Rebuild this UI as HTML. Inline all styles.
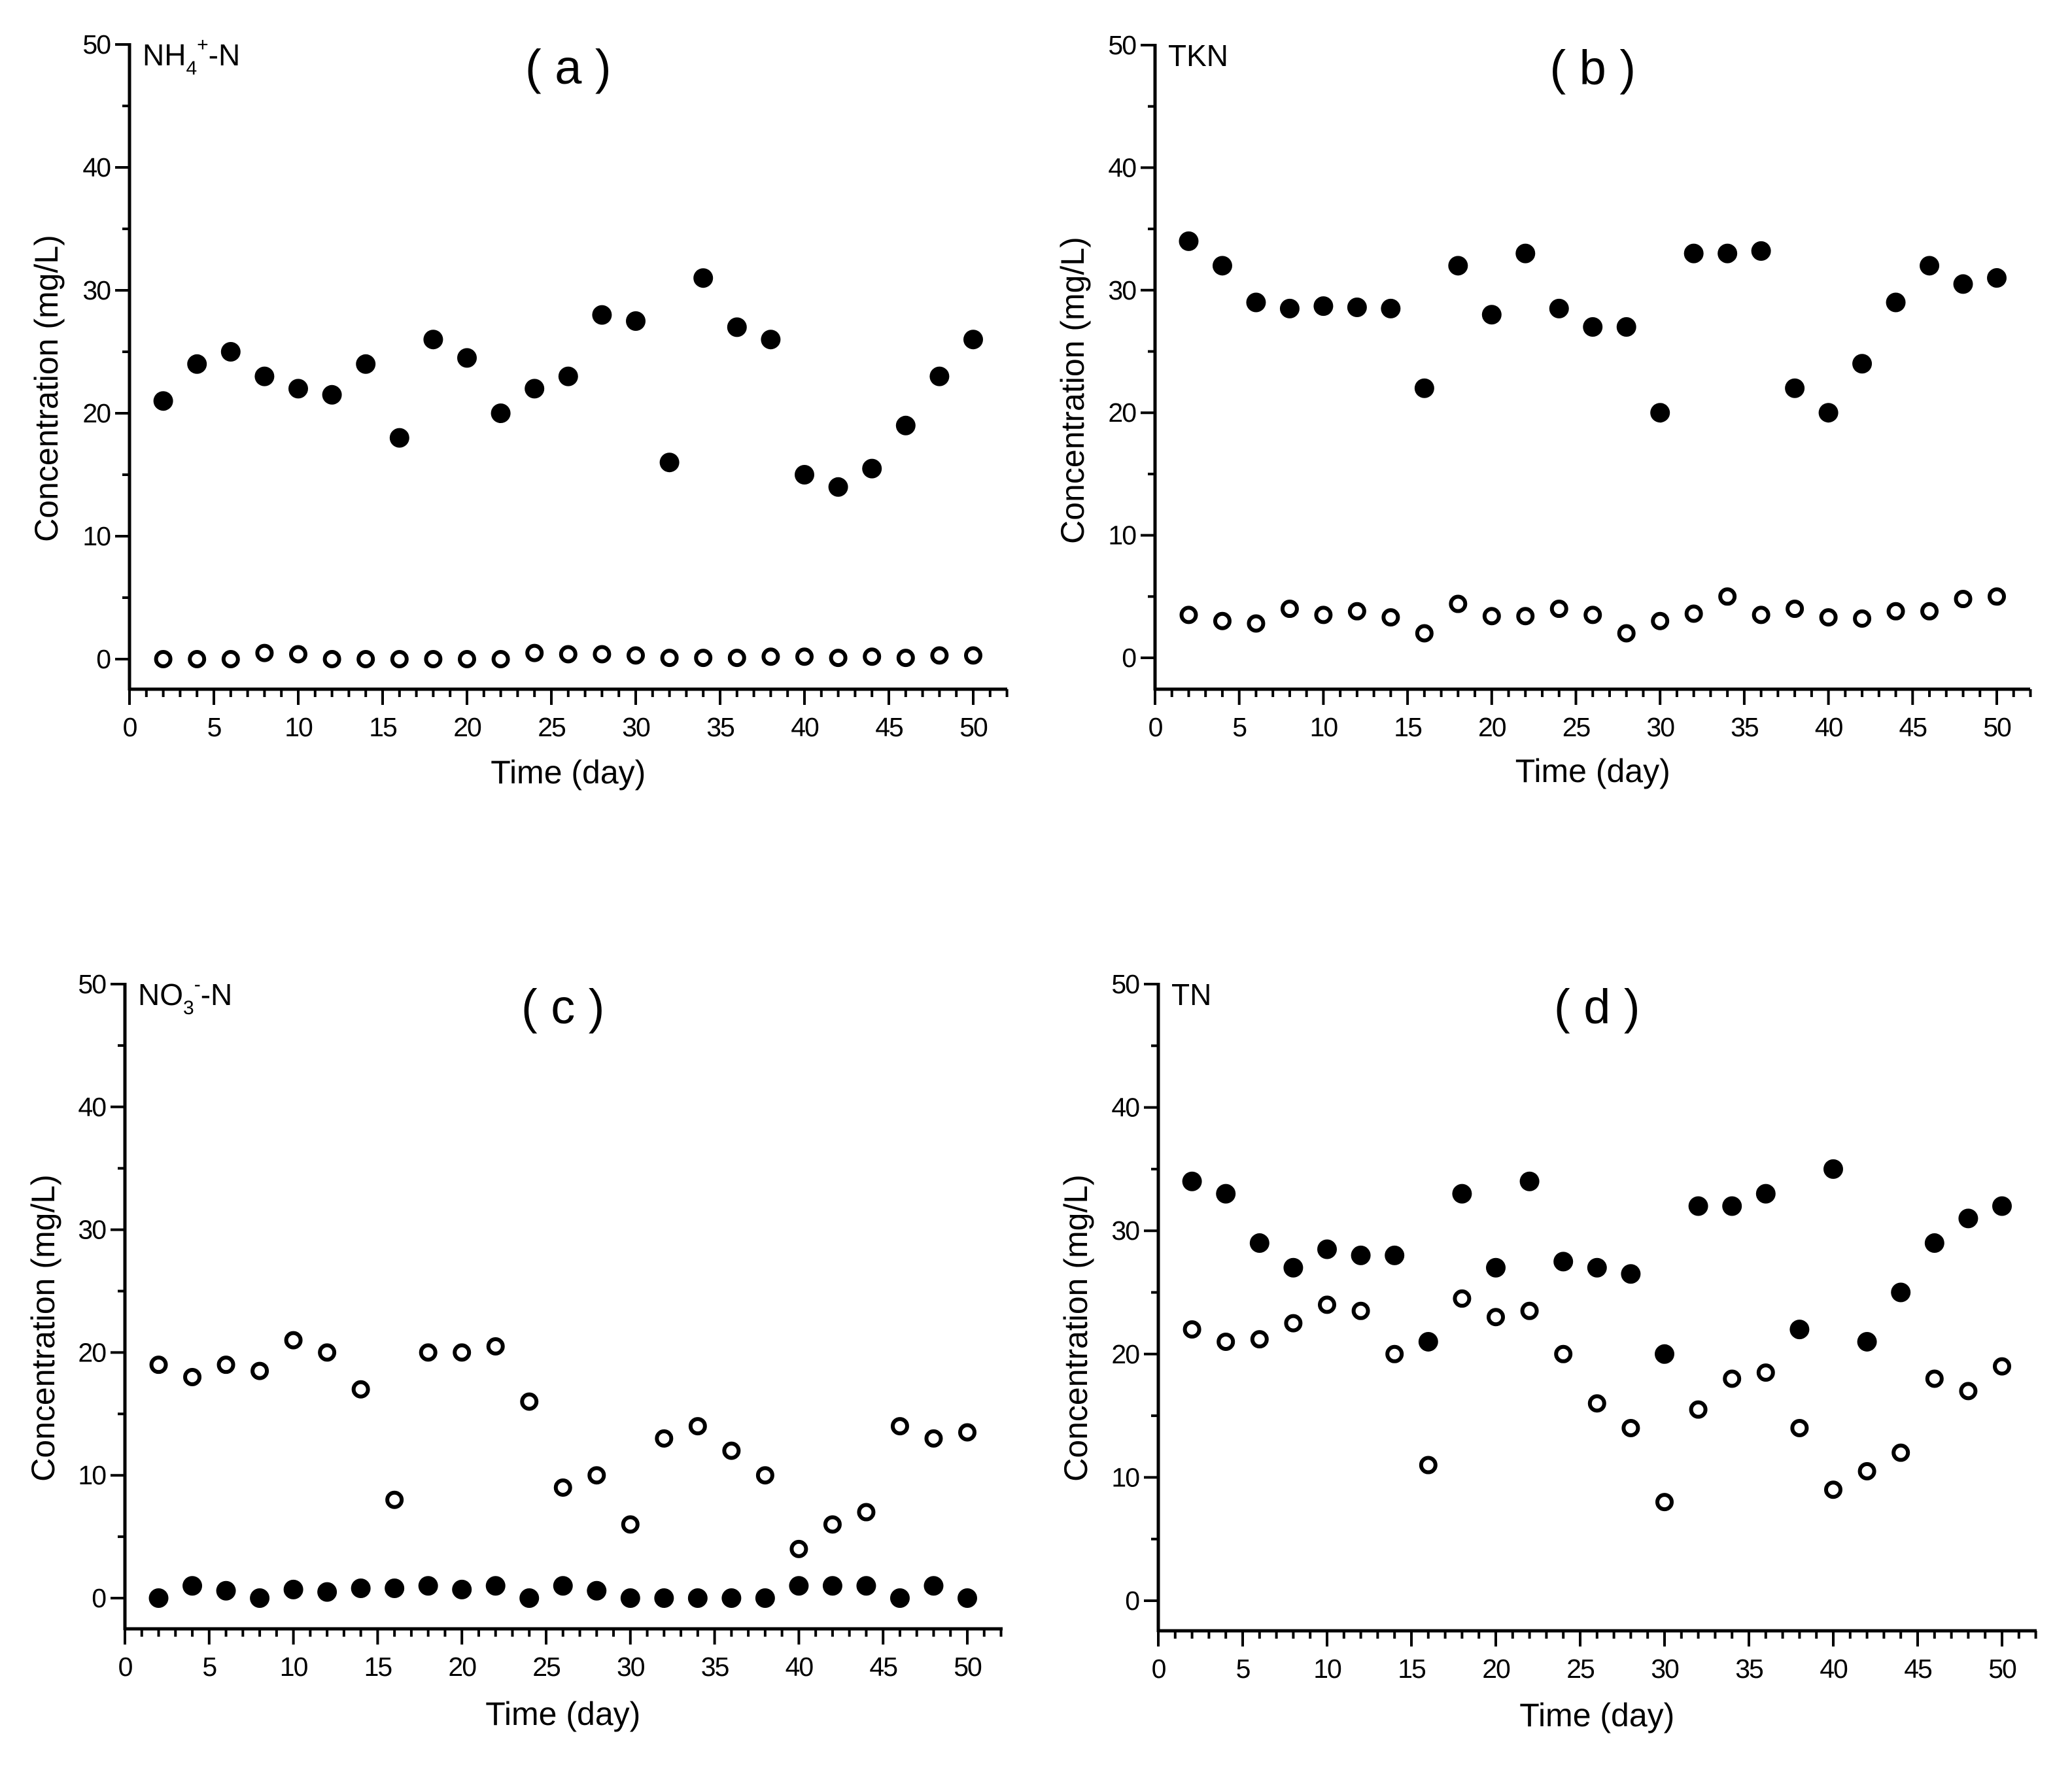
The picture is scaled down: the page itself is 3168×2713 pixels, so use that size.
<!DOCTYPE html>
<html><head><meta charset="utf-8"><style>
html,body{margin:0;padding:0;background:#fff;}
svg{display:block;font-family:"Liberation Sans",sans-serif;}
</style></head><body>
<svg id="fig" width="3168" height="2713" viewBox="0 0 3168 2713" xmlns="http://www.w3.org/2000/svg">
<rect width="3168" height="2713" fill="#fff"/>
</svg>
<script>
const days = [2,4,6,8,10,12,14,16,18,20,22,24,26,28,30,32,34,36,38,40,42,44,46,48,50];
const xTicks = [0,5,10,15,20,25,30,35,40,45,50];
const yTicks = [0,10,20,30,40,50];
const aFilled = [21,24,25,23,22,21.5,24,18,26,24.5,20,22,23,28,27.5,16,31,27,26,15,14,15.5,19,23,26];
const aOpen = [0,0,0,0.5,0.4,0,0,0,0,0,0,0.5,0.4,0.4,0.3,0.1,0.1,0.1,0.2,0.2,0.1,0.2,0.1,0.3,0.3];
const bFilled = [34,32,29,28.5,28.7,28.6,28.5,22,32,28,33,28.5,27,27,20,33,33,33.2,22,20,24,29,32,30.5,31];
const bOpen = [3.5,3,2.8,4,3.5,3.8,3.3,2,4.4,3.4,3.4,4,3.5,2,3,3.6,5,3.5,4,3.3,3.2,3.8,3.8,4.8,5];
const cFilled = [0,1,0.6,0,0.7,0.5,0.8,0.8,1,0.7,1,0,1,0.6,0,0,0,0,0,1,1,1,0,1,0];
const cOpen = [19,18,19,18.5,21,20,17,8,20,20,20.5,16,9,10,6,13,14,12,10,4,6,7,14,13,13.5];
const dFilled = [34,33,29,27,28.5,28,28,21,33,27,34,27.5,27,26.5,20,32,32,33,22,35,21,25,29,31,32];
const dOpen = [22,21,21.2,22.5,24,23.5,20,11,24.5,23,23.5,20,16,14,8,15.5,18,18.5,14,9,10.5,12,18,17,19];

const NS="http://www.w3.org/2000/svg";
const svg=document.getElementById('fig');
function mk(tag,attrs,parent){const e=document.createElementNS(NS,tag);for(const k in attrs)e.setAttribute(k,attrs[k]);(parent||svg).appendChild(e);return e;}

const panels=[
 {id:'a',ax:198,x50:1488,xend:1540,y0:1008,y50:68,xa:1054,ytx:71,yty:594,xty:1180,filled:aFilled,open:aOpen,lbl:['NH','4','+','-N']},
 {id:'b',ax:1766,x50:3053,xend:3104,y0:1006,y50:69,xa:1054,ytx:1640,yty:597,xty:1178,filled:bFilled,open:bOpen,lbl:['TKN']},
 {id:'c',ax:191,x50:1479,xend:1533,y0:2444,y50:1505,xa:2491,ytx:66,yty:2031,xty:2620,filled:cFilled,open:cOpen,lbl:['NO','3','-','-N']},
 {id:'d',ax:1771,x50:3061,xend:3114,y0:2448,y50:1505,xa:2494,ytx:1645,yty:2031,xty:2622,filled:dFilled,open:dOpen,lbl:['TN']}
];

panels.forEach(p=>{
  const g=mk('g',{});
  
  
  const X=v=>p.ax+(p.x50-p.ax)*v/50;
  const Y=v=>p.y0+(p.y50-p.y0)*v/50;
  const yAxis=mk('line',{x1:p.ax,y1:p.y50-2,x2:p.ax,y2:p.xa+2,stroke:'#000','stroke-width':5},g);
  
  
  const xAxis=mk('line',{x1:p.ax,y1:p.xa,x2:p.xend,y2:p.xa,stroke:'#000','stroke-width':5},g);
  
  
  for(let v=0;v<=52;v++){
    const maj=v%5===0;
    mk('line',{x1:X(v),y1:p.xa,x2:X(v),y2:p.xa+(maj?24:12),stroke:'#000','stroke-width':4},g);
  }
  xTicks.forEach(v=>{
    const t=mk('text',{x:X(v),y:p.xa+72,'font-size':41,'letter-spacing':-2,'text-anchor':'middle'},g);
    t.textContent=v;
    
    
  });
  for(let v=0;v<=50;v+=5){
    const maj=v%10===0;
    mk('line',{x1:p.ax,y1:Y(v),x2:p.ax-(maj?22:11),y2:Y(v),stroke:'#000','stroke-width':4},g);
  }
  yTicks.forEach(v=>{
    const t=mk('text',{x:p.ax-30,y:Y(v)+14,'font-size':41,'letter-spacing':-2,'text-anchor':'end'},g);
    t.textContent=v;
    
    
  });
  const yt=mk('text',{x:p.ytx,y:p.yty,'font-size':50,'text-anchor':'middle',transform:`rotate(-90 ${p.ytx} ${p.yty})`,'dominant-baseline':'central'},g);
  yt.textContent='Concentration (mg/L)';
  
  
  const xt=mk('text',{x:X(26),y:p.xty+18,'font-size':50,'text-anchor':'middle'},g);
  xt.textContent='Time (day)';
  
  
  const pt=mk('text',{x:X(26),y:p.y50+60,'font-size':74,'text-anchor':'middle'},g);
  pt.textContent='( '+p.id+' )';
  
  
  const sl=mk('text',{x:p.ax+20,y:p.y50+32,'font-size':46},g);
  
  
  if(p.lbl.length===1){sl.textContent=p.lbl[0];}
  else{
    const s1=mk('tspan',{},sl);s1.textContent=p.lbl[0];
    const s2=mk('tspan',{dy:14,'font-size':30},sl);s2.textContent=p.lbl[1];
    const s3=mk('tspan',{dy:-36,'font-size':30},sl);s3.textContent=p.lbl[2];
    const s4=mk('tspan',{dy:22},sl);s4.textContent=p.lbl[3];
  }
  days.forEach((d,i)=>{
    const c=mk('circle',{cx:X(d),cy:Y(p.filled[i]),r:15,fill:'#000'},g);
    
    
    const o=mk('circle',{cx:X(d),cy:Y(p.open[i]),r:11,fill:'#fff',stroke:'#000','stroke-width':6},g);
    
    
  });
});
</script>
</body></html>
